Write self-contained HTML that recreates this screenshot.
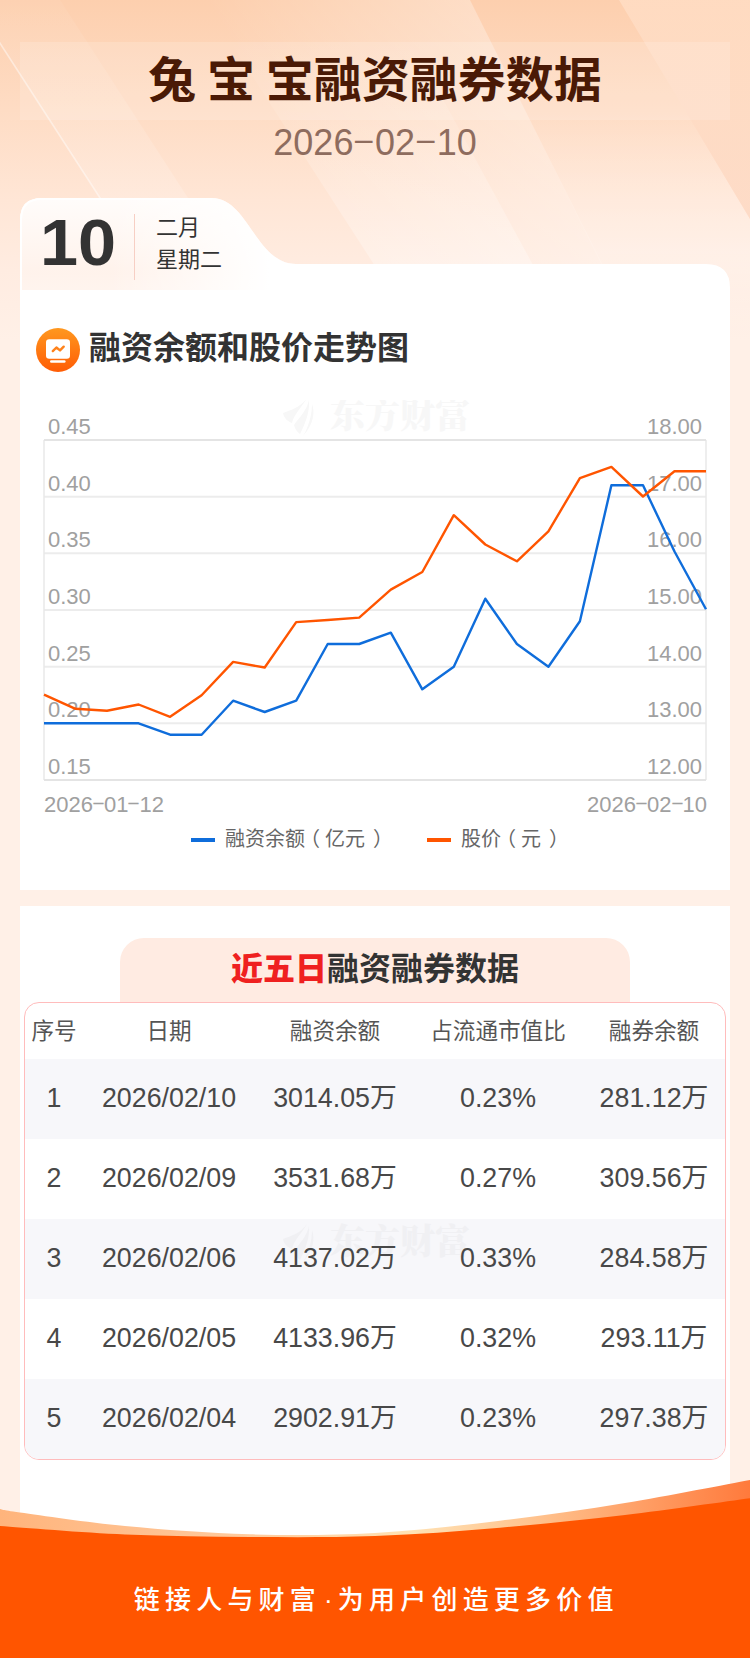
<!DOCTYPE html>
<html lang="zh-CN">
<head>
<meta charset="utf-8">
<title>兔宝宝融资融券数据</title>
<style>
*{box-sizing:border-box;margin:0;padding:0}
html,body{width:750px;height:1658px;overflow:hidden}
body{position:relative;font-family:"Liberation Sans","Noto Sans CJK SC",sans-serif;color:#333;
 background:linear-gradient(180deg,#fdcfae 0px,#fedcc4 110px,#ffe6d6 200px,#ffece1 270px,#fff0e7 340px,#fff0e7 1658px);}
.abs{position:absolute}
#stripes{left:0;top:0;width:750px;height:420px}
#band{left:20px;top:42px;width:710px;height:78px;background:rgba(255,255,255,.16)}
#title{left:0;top:42px;width:750px;height:78px;line-height:78px;text-align:center;font-size:48px;font-weight:700;color:#4a1a06;white-space:pre;word-spacing:-2.5px}
#date{left:0;top:120px;width:750px;height:46px;line-height:46px;text-align:center;font-size:36px;color:#8e6c5e}
.hy{display:inline-block;width:.6em;text-align:center;transform:translateY(-3.2px) scale(2,.75)}
.hy2{display:inline-block;width:.5em;text-align:center;transform:translateY(-1.8px) scale(1.9,.8)}
.xl{top:791px;font-size:22px;line-height:28px;color:#a0a0a0;white-space:nowrap}
#tabshape{left:0;top:190px;width:750px;height:120px}
#card1{left:20px;top:290px;width:710px;height:600px;background:#fff}
#day{left:39.7px;top:205.5px;font-size:65.5px;line-height:74px;font-weight:700;color:#333;transform:scaleX(1.045);transform-origin:0 0}
#divider{left:134px;top:214px;width:1px;height:66px;background:#f7cfc4}
#month{left:156px;top:212px;font-size:22px;line-height:32px;color:#333}
#icon{left:36px;top:327.6px;width:44px;height:44px}
#h1{left:89px;top:326px;font-size:32px;line-height:44px;font-weight:700;color:#333;white-space:nowrap}
#chart{left:0;top:400px;width:750px;height:480px}
#card2{left:20px;top:906px;width:710px;height:640px;background:#fff}
#ttab{left:120px;top:938px;width:510px;height:66px;background:#ffebe2;border-radius:24px 24px 0 0}
#ttitle{left:120px;top:938px;width:510px;height:64px;line-height:62px;text-align:center;font-size:32px;font-weight:700;color:#333}
#ttitle b{color:#ef2020}
#table{left:24px;top:1002px;width:702px;height:458px;border:1px solid #ffbcbc;border-radius:15px;overflow:hidden;background:#fff}
.tr{position:absolute;left:0;width:700px;height:80px}
.tr.g{background:#f7f7fa}
.td{position:absolute;top:0;height:80px;line-height:78px;text-align:center;font-size:26.8px;color:#484848;white-space:nowrap}
.th{position:absolute;top:0;height:57px;line-height:58px;text-align:center;font-size:22.6px;color:#555;white-space:nowrap}
.c1{left:0;width:58px}.c2{left:58px;width:172px}.c3{left:230px;width:160px}.c4{left:390px;width:166px}.c5{left:556px;width:146px}
#footer{left:0;top:1470px;width:750px;height:188px}
#slogan{left:133.8px;top:1580px;font-size:26px;line-height:40px;color:#fff;letter-spacing:5.2px;white-space:nowrap;font-weight:500}
</style>
</head>
<body>
<svg id="stripes" class="abs" viewBox="0 0 750 420">
 <defs>
  <linearGradient id="s1" gradientUnits="userSpaceOnUse" x1="203" y1="0" x2="395" y2="-124"><stop offset="0" stop-color="#fff" stop-opacity="0"/><stop offset="1" stop-color="#fff" stop-opacity=".3"/></linearGradient>
  <linearGradient id="s2" gradientUnits="userSpaceOnUse" x1="0" y1="0" x2="0" y2="230"><stop offset="0" stop-color="#ffddc4"/><stop offset="1" stop-color="#fdd9c4"/></linearGradient>
  <linearGradient id="s4" gradientUnits="userSpaceOnUse" x1="0" y1="40" x2="0" y2="264"><stop offset="0" stop-color="#fff" stop-opacity="0"/><stop offset="1" stop-color="#fff" stop-opacity=".3"/></linearGradient>
  <linearGradient id="s5" gradientUnits="userSpaceOnUse" x1="0" y1="110" x2="0" y2="340"><stop offset="0" stop-color="#fff" stop-opacity="0"/><stop offset=".62" stop-color="#fff" stop-opacity=".27"/><stop offset=".82" stop-color="#fff" stop-opacity=".1"/><stop offset="1" stop-color="#fff" stop-opacity="0"/></linearGradient>
  <linearGradient id="s3" gradientUnits="userSpaceOnUse" x1="0" y1="0" x2="0" y2="300"><stop offset="0" stop-color="#fff" stop-opacity=".05"/><stop offset="1" stop-color="#fff" stop-opacity=".22"/></linearGradient>
 </defs>
 <polygon points="-28,0 60,0 254,300 166,300" fill="url(#s3)"/>
 <polygon points="-29,0 -27,0 167,300 165,300" fill="#fff" opacity=".45"/>
 <polygon points="203,0 470,0 620,300 397,300" fill="url(#s1)"/>
 <polygon points="203,0 389,0 552,300 397,300" fill="url(#s4)"/>
 <polygon points="470,0 619,0 750,219 750,340 640,340 600,261" fill="url(#s5)"/>
 <polygon points="619,0 750,0 750,219" fill="url(#s2)" opacity=".85"/>
</svg>
<div id="band" class="abs"></div>
<div id="title" class="abs">兔 宝 宝融资融券数据</div>
<div id="date" class="abs">2026<span class="hy">-</span>02<span class="hy">-</span>10</div>

<svg id="tabshape" class="abs" viewBox="0 190 750 120">
 <defs>
  <linearGradient id="tg" x1="0" y1="198" x2="0" y2="291" gradientUnits="userSpaceOnUse">
   <stop offset="0" stop-color="#ffe3d3" stop-opacity=".1"/><stop offset=".8" stop-color="#ffe3d3" stop-opacity=".45"/><stop offset="1" stop-color="#ffe3d3" stop-opacity=".38"/>
  </linearGradient>
  <linearGradient id="tg2" x1="110" y1="0" x2="270" y2="0" gradientUnits="userSpaceOnUse">
   <stop offset="0" stop-color="#fff" stop-opacity="0"/><stop offset="1" stop-color="#fff" stop-opacity="1"/>
  </linearGradient>
 </defs>
 <path d="M20,310 L20,220 Q20,198 42,198 L212,198 C248,198 256,264 296,264 L706,264 Q730,264 730,288 L730,310 Z" fill="#fff"/>
 <clipPath id="tc"><path d="M20,310 L20,220 Q20,198 42,198 L212,198 C248,198 256,264 296,264 L706,264 Q730,264 730,288 L730,310 Z"/></clipPath>
 <g clip-path="url(#tc)"><rect x="20" y="198" width="300" height="93" fill="url(#tg)"/>
 <rect x="20" y="198" width="300" height="93" fill="url(#tg2)"/></g>
 <path d="M21,291 L21,220 Q21,199 42,199 L212,199" fill="none" stroke="#fff" stroke-width="2"/>
</svg>
<div id="card1" class="abs"></div>
<div id="day" class="abs">10</div>
<div id="divider" class="abs"></div>
<div id="month" class="abs">二月<br>星期二</div>

<svg id="icon" class="abs" viewBox="0 0 44 44">
 <defs><linearGradient id="ig" x1="0" y1="0" x2="0" y2="1"><stop offset="0" stop-color="#ff981f"/><stop offset="1" stop-color="#ff5c05"/></linearGradient></defs>
 <circle cx="22" cy="22" r="22" fill="url(#ig)"/>
 <rect x="10" y="11.2" width="24" height="19.6" rx="3.2" fill="#fff"/>
 <rect x="14" y="32.2" width="15.6" height="2.6" rx="1.3" fill="#fff"/>
 <polyline points="16.8,23.1 20.4,19.5 24,22.4 27.7,18.7" fill="none" stroke="#ff821a" stroke-width="2.4" stroke-linecap="round" stroke-linejoin="round"/>
</svg>
<div id="h1" class="abs">融资余额和股价走势图</div>
<svg id="chart" class="abs" viewBox="0 400 750 480" font-family="'Liberation Sans','Noto Sans CJK SC',sans-serif">
 <g fill="#f7f7f7" transform="translate(281,398)"><path d="M26,0 C20,9 10,12 2,15 C3,20 6,23 11,25 C13,16 21,9 26,0 Z"/><path d="M28,2 C26,12 18,20 13,27 C14,31 16,34 19,36 C24,26 29,14 28,2 Z"/><path d="M31,6 C34,14 33,26 22,38 C28,28 31,16 31,6 Z"/><text x="49" y="30" font-family="'Liberation Serif','Noto Serif CJK SC',serif" font-weight="900" font-size="35">东方财富</text></g>
 <line x1="44" x2="706" y1="440.0" y2="440.0" stroke="#ececec" stroke-width="2"/>
 <line x1="44" x2="706" y1="496.7" y2="496.7" stroke="#ececec" stroke-width="2"/>
 <line x1="44" x2="706" y1="553.3" y2="553.3" stroke="#ececec" stroke-width="2"/>
 <line x1="44" x2="706" y1="610.0" y2="610.0" stroke="#ececec" stroke-width="2"/>
 <line x1="44" x2="706" y1="666.7" y2="666.7" stroke="#ececec" stroke-width="2"/>
 <line x1="44" x2="706" y1="723.3" y2="723.3" stroke="#ececec" stroke-width="2"/>
 <line x1="44" x2="706" y1="780.0" y2="780.0" stroke="#ececec" stroke-width="2"/>
 <line x1="44" x2="44" y1="440" y2="780" stroke="#e8e8e8" stroke-width="1.5"/>
 <line x1="706" x2="706" y1="440" y2="780" stroke="#e8e8e8" stroke-width="1.5"/>
 <line x1="44" x2="706" y1="440" y2="440" stroke="#e4e4e4" stroke-width="2"/>
 <line x1="44" x2="706" y1="780" y2="780" stroke="#e4e4e4" stroke-width="2"/>
 <text x="48" y="434.0" font-size="22" fill="#a0a0a0">0.45</text><text x="702" y="434.0" font-size="22" fill="#a0a0a0" text-anchor="end">18.00</text>
 <text x="48" y="490.7" font-size="22" fill="#a0a0a0">0.40</text><text x="702" y="490.7" font-size="22" fill="#a0a0a0" text-anchor="end">17.00</text>
 <text x="48" y="547.3" font-size="22" fill="#a0a0a0">0.35</text><text x="702" y="547.3" font-size="22" fill="#a0a0a0" text-anchor="end">16.00</text>
 <text x="48" y="604.0" font-size="22" fill="#a0a0a0">0.30</text><text x="702" y="604.0" font-size="22" fill="#a0a0a0" text-anchor="end">15.00</text>
 <text x="48" y="660.7" font-size="22" fill="#a0a0a0">0.25</text><text x="702" y="660.7" font-size="22" fill="#a0a0a0" text-anchor="end">14.00</text>
 <text x="48" y="717.3" font-size="22" fill="#a0a0a0">0.20</text><text x="702" y="717.3" font-size="22" fill="#a0a0a0" text-anchor="end">13.00</text>
 <text x="48" y="774.0" font-size="22" fill="#a0a0a0">0.15</text><text x="702" y="774.0" font-size="22" fill="#a0a0a0" text-anchor="end">12.00</text>
 <polyline points="44.0,723.3 75.5,723.3 107.0,723.3 138.6,723.3 170.1,734.7 201.6,734.7 233.1,700.7 264.7,712.0 296.2,700.7 327.7,644.0 359.2,644.0 390.8,632.7 422.3,689.3 453.8,666.7 485.3,598.7 516.9,644.0 548.4,666.7 579.9,621.3 611.4,485.3 643.0,485.3 674.5,551.5 706.0,609.3" fill="none" stroke="#0f6ddb" stroke-width="2.4" stroke-linejoin="round"/>
 <polyline points="44.0,694.7 75.5,708.8 107.0,710.7 138.6,704.5 170.1,716.8 201.6,695.2 233.1,661.9 264.7,667.5 296.2,622.1 327.7,620.0 359.2,617.6 390.8,589.6 422.3,572.0 453.8,515.2 485.3,544.5 516.9,561.3 548.4,531.3 579.9,478.1 611.4,466.9 643.0,496.5 674.5,471.2 706.0,471.2" fill="none" stroke="#ff5500" stroke-width="2.4" stroke-linejoin="round"/>
 <rect x="191" y="838" width="24" height="4" fill="#0f6ddb"/><text x="225" y="846" font-size="20" fill="#666">融资余额<tspan dx="-5">（</tspan><tspan dx="5">亿元</tspan><tspan dx="8">）</tspan></text>
 <rect x="427" y="838" width="24" height="4" fill="#ff5500"/><text x="461" y="846" font-size="20" fill="#666">股价<tspan dx="-5">（</tspan><tspan dx="5">元</tspan><tspan dx="8">）</tspan></text>
</svg>
<div class="abs xl" style="left:44px">2026<span class="hy2">-</span>01<span class="hy2">-</span>12</div>
<div class="abs xl" style="right:43px">2026<span class="hy2">-</span>02<span class="hy2">-</span>10</div>
<div id="card2" class="abs"></div>
<div id="ttab" class="abs"></div>
<div id="ttitle" class="abs"><b>近五日</b>融资融券数据</div>
<div id="table" class="abs">
 <div class="th c1">序号</div><div class="th c2">日期</div><div class="th c3">融资余额</div><div class="th c4">占流通市值比</div><div class="th c5">融券余额</div>
 <div class="tr g" style="top:56px"><div class="td c1">1</div><div class="td c2">2026/02/10</div><div class="td c3">3014.05万</div><div class="td c4">0.23%</div><div class="td c5">281.12万</div></div>
 <div class="tr" style="top:136px"><div class="td c1">2</div><div class="td c2">2026/02/09</div><div class="td c3">3531.68万</div><div class="td c4">0.27%</div><div class="td c5">309.56万</div></div>
 <div class="tr g" style="top:216px"><svg style="position:absolute;left:250px;top:0;width:220px;height:50px" viewBox="0 0 220 50"><g fill="#f0f0f3" transform="translate(6,5)"><path d="M26,0 C20,9 10,12 2,15 C3,20 6,23 11,25 C13,16 21,9 26,0 Z"/><path d="M28,2 C26,12 18,20 13,27 C14,31 16,34 19,36 C24,26 29,14 28,2 Z"/><path d="M31,6 C34,14 33,26 22,38 C28,28 31,16 31,6 Z"/><text x="49" y="30" font-family="'Liberation Serif','Noto Serif CJK SC',serif" font-weight="900" font-size="35">东方财富</text></g></svg><div class="td c1">3</div><div class="td c2">2026/02/06</div><div class="td c3">4137.02万</div><div class="td c4">0.33%</div><div class="td c5">284.58万</div></div>
 <div class="tr" style="top:296px"><div class="td c1">4</div><div class="td c2">2026/02/05</div><div class="td c3">4133.96万</div><div class="td c4">0.32%</div><div class="td c5">293.11万</div></div>
 <div class="tr g" style="top:376px"><div class="td c1">5</div><div class="td c2">2026/02/04</div><div class="td c3">2902.91万</div><div class="td c4">0.23%</div><div class="td c5">297.38万</div></div>
</div>
<svg id="footer" class="abs" viewBox="0 1470 750 188">
 <defs><linearGradient id="fg" x1="0" y1="0" x2="750" y2="0" gradientUnits="userSpaceOnUse">
  <stop offset="0" stop-color="#ffb47c"/><stop offset=".3" stop-color="#ffc89a"/><stop offset=".55" stop-color="#ffe2b4"/><stop offset=".72" stop-color="#ffc18c"/><stop offset="1" stop-color="#ff7a3c"/>
 </linearGradient></defs>
 <path d="M0.0,1509.0 C3.3,1509.6 -0.8,1509.7 20.0,1512.5 C40.8,1515.3 86.7,1522.4 125.0,1526.0 C163.3,1529.6 208.3,1533.1 250.0,1534.3 C291.7,1535.5 333.3,1535.3 375.0,1533.0 C416.7,1530.7 458.3,1525.7 500.0,1520.7 C541.7,1515.7 583.3,1509.8 625.0,1503.0 C666.7,1496.2 729.2,1483.8 750.0,1480.0 L750,1658 L0,1658 Z" fill="url(#fg)"/>
 <path d="M0.0,1526.0 C20.8,1527.4 83.3,1532.7 125.0,1534.5 C166.7,1536.3 208.3,1536.8 250.0,1537.0 C291.7,1537.2 333.3,1537.5 375.0,1536.0 C416.7,1534.5 458.3,1531.2 500.0,1527.7 C541.7,1524.2 583.3,1519.9 625.0,1515.0 C666.7,1510.1 729.2,1501.1 750.0,1498.3 L750,1658 L0,1658 Z" fill="#ff5500"/>
</svg>
<div id="slogan" class="abs">链接人与财富<span style="margin-left:3px">·</span>为用户创造更多价值</div>
</body>
</html>
